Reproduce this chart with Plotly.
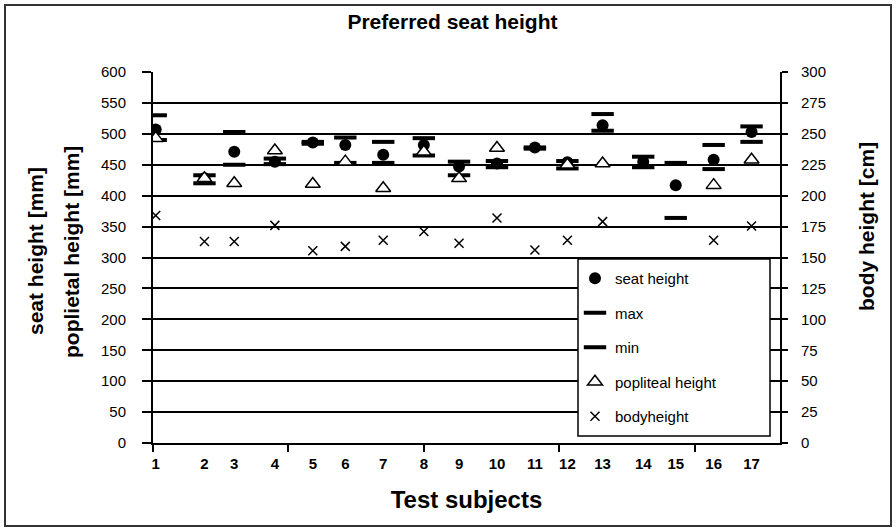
import plotly.graph_objects as go

# ---------------- data ----------------
subjects = [str(i) for i in range(1, 18)]
# horizontal position of each subject on the (unlabelled) x scale
x_pos = [0.1, 1.9, 3.0, 4.5, 5.9, 7.1, 8.5, 10.0, 11.3, 12.7, 14.1, 15.3, 16.6, 18.1, 19.3, 20.7, 22.1]
seat_height = [507, 428, 471, 455, 486, 482, 466, 482, 447, 452, 478, 454, 514, 455, 417, 458, 503]
max_height = [530, 433, 503, 460, 487, 494, 487, 493, 455, 456, 478, 456, 532, 463, 453, 482, 512]
min_height = [490, 420, 450, 451, 484, 453, 453, 465, 433, 446, 476, 444, 505, 446, 364, 443, 487]
popliteal = [493, 428, 420, 473, 419, 455, 412, 471, 428, 477, None, 450, 452, None, None, 417, 458]
body_height = [184, 163, 163, 176, 155.5, 159, 164, 171, 161.5, 182, 156, 164, 179, None, None, 164, 175.5]

left_ticks = list(range(0, 601, 50))
right_ticks = list(range(0, 301, 25))
x_major = [0, 5, 10, 15, 20]

# ---------------- layout constants ----------------
W, H = 896, 531
L, R, T, B = 153, 116, 72, 88
PW, PH = W - L - R, H - T - B


def px_x(px):
    return (px - L) / PW


def px_y(py):
    return (H - B - py) / PH


FONT = "Liberation Sans, Arial, sans-serif"

fig = go.Figure()

fig.add_trace(go.Scatter(
    x=x_pos, y=seat_height, mode="markers", name="seat height", legendgroup="a",
    marker=dict(symbol="circle", size=12, color="black")))
fig.add_trace(go.Scatter(
    x=x_pos, y=max_height, mode="markers", name="max", legendgroup="b",
    marker=dict(symbol="line-ew", size=16, color="black", line=dict(width=4, color="black"))))
fig.add_trace(go.Scatter(
    x=x_pos, y=min_height, mode="markers", name="min", legendgroup="c",
    marker=dict(symbol="line-ew", size=16, color="black", line=dict(width=4, color="black"))))
fig.add_trace(go.Scatter(
    x=x_pos, y=popliteal, mode="markers", name="popliteal height", legendgroup="d",
    marker=dict(symbol="triangle-up", size=13, color="white", line=dict(width=1.5, color="black"))))
fig.add_trace(go.Scatter(
    x=x_pos, y=body_height, mode="markers", name="bodyheight", legendgroup="e", yaxis="y2",
    marker=dict(symbol="x-thin-open", size=9, color="black", line=dict(width=1.5, color="black"))))

fig.update_layout(
    width=W, height=H,
    margin=dict(l=L, r=R, t=T, b=B, autoexpand=False),
    paper_bgcolor="white", plot_bgcolor="white",
    font=dict(family=FONT, color="black", size=14),
    title=dict(text="<b>Preferred seat height</b>", x=0.505, xref="container",
               y=1 - 22 / H, yref="container", yanchor="middle", xanchor="center",
               font=dict(size=21, family=FONT)),
    xaxis=dict(range=[0, 23.15], tickmode="array", tickvals=x_pos, ticktext=subjects,
               ticks="", ticklabelstandoff=6, showgrid=False, zeroline=False,
               showline=True, linecolor="black", linewidth=2,
               tickfont=dict(size=15, family=FONT, weight="bold"),
               minor=dict(tickmode="array", tickvals=x_major, ticks="outside", ticklen=7,
                          tickwidth=2, tickcolor="black", showgrid=False),
               title=dict(text="<b>Test subjects</b>", font=dict(size=24, family=FONT), standoff=20)),
    yaxis=dict(range=[0, 600], tickmode="array", tickvals=left_ticks, ticks="outside", ticklen=9,
               tickwidth=2, tickcolor="black", ticklabelstandoff=13,
               showline=True, linecolor="black", linewidth=2, zeroline=False,
               showgrid=True, gridcolor="black", gridwidth=1.5,
               tickfont=dict(size=15, family=FONT)),
    yaxis2=dict(range=[0, 300], tickmode="array", tickvals=right_ticks, overlaying="y", side="right",
                ticks="outside", ticklen=6, tickwidth=2, tickcolor="black", ticklabelstandoff=10,
                showline=True, linecolor="black", linewidth=2, zeroline=False, showgrid=False,
                tickfont=dict(size=15, family=FONT)),
    showlegend=True,
    legend=dict(x=px_x(575), y=px_y(262), xanchor="left", yanchor="top",
                bgcolor="rgba(0,0,0,0)", borderwidth=0, traceorder="grouped",
                tracegroupgap=12, font=dict(size=15, family=FONT), itemsizing="trace"),
)

# legend box (white, above gridlines)
fig.add_shape(type="rect", xref="paper", yref="paper",
              x0=px_x(578), x1=px_x(770), y0=px_y(436), y1=px_y(259),
              fillcolor="white", line=dict(color="black", width=1.5), layer="above")
# outer frame
fig.add_shape(type="rect", xref="paper", yref="paper",
              x0=px_x(5), x1=px_x(891), y0=px_y(526), y1=px_y(5),
              fillcolor="rgba(0,0,0,0)", line=dict(color="#333", width=2), layer="above")

# axis titles
fig.add_annotation(text="<b>seat height [mm]</b>", xref="paper", yref="paper",
                   x=px_x(35), y=px_y(251), textangle=-90, showarrow=False,
                   xanchor="center", yanchor="middle", font=dict(size=21, family=FONT))
fig.add_annotation(text="<b>poplietal height [mm]</b>", xref="paper", yref="paper",
                   x=px_x(71), y=px_y(252), textangle=-90, showarrow=False,
                   xanchor="center", yanchor="middle", font=dict(size=21, family=FONT))
fig.add_annotation(text="<b>body height [cm]</b>", xref="paper", yref="paper",
                   x=px_x(866), y=px_y(226), textangle=-90, showarrow=False,
                   xanchor="center", yanchor="middle", font=dict(size=21, family=FONT))

fig.write_html("out.html", config={"displayModeBar": False},
               post_script="document.body.style.margin='0';")
